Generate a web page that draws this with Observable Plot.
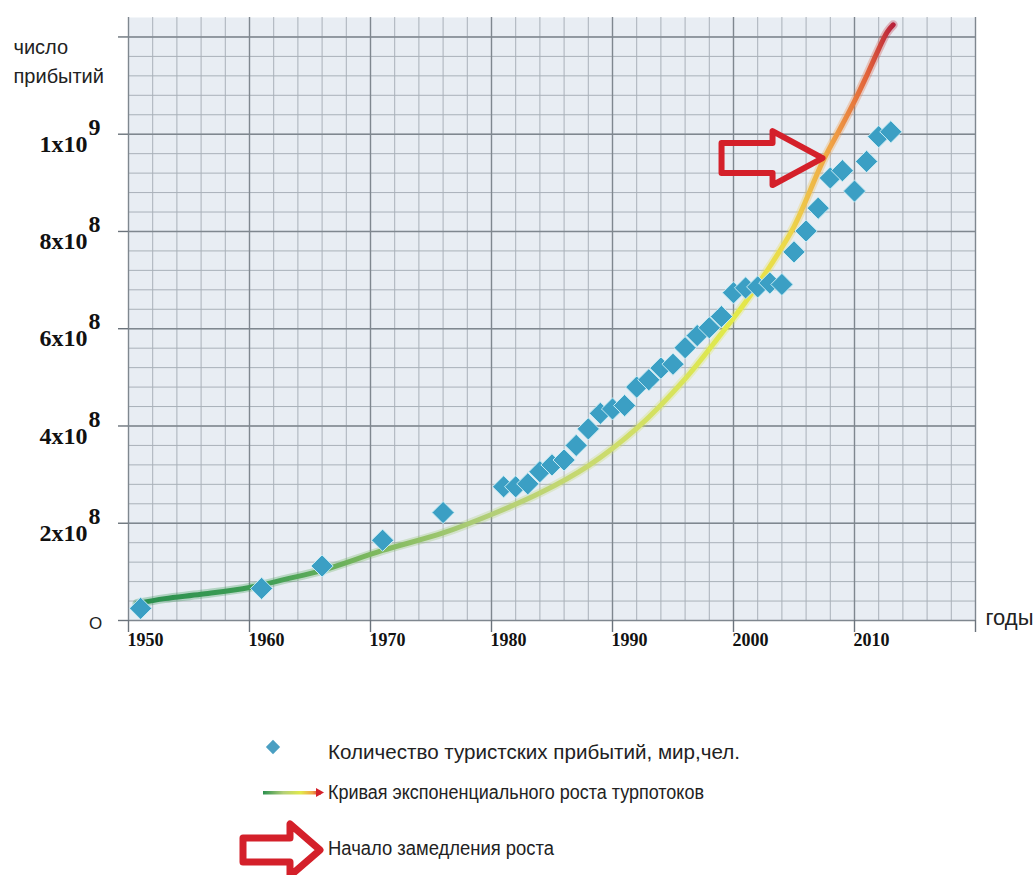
<!DOCTYPE html>
<html>
<head>
<meta charset="utf-8">
<script src="https://cdn.jsdelivr.net/npm/d3@7"></script>
<script src="https://cdn.jsdelivr.net/npm/@observablehq/plot@0.6"></script>
<style>
  html, body { margin: 0; padding: 0; background: #ffffff; }
  #chart svg, #legend { display: block; }
</style>
</head>
<body>
<div id="chart"></div>
<svg id="legend" width="1036" height="185" xmlns="http://www.w3.org/2000/svg"></svg>
<script>
// ---------- data ----------
const arrivalYears = [1951, 1961, 1966, 1971, 1976, 1981, 1982, 1983, 1984, 1985, 1986, 1987, 1988, 1989,
  1990, 1991, 1992, 1993, 1994, 1995, 1996, 1997, 1998, 1999, 2000, 2001, 2002, 2003, 2004, 2005,
  2006, 2007, 2008, 2009, 2010, 2011, 2012, 2013];
const arrivalValues = [25e6, 66e6, 112e6, 165e6, 222e6, 275e6, 275e6, 281e6, 306e6, 320e6, 330e6, 360e6, 394e6, 426e6,
  435e6, 442e6, 480e6, 495e6, 519e6, 527e6, 561e6, 586e6, 602e6, 625e6, 674e6, 684e6, 686e6, 694e6, 691e6, 758e6,
  801e6, 848e6, 910e6, 925e6, 883e6, 944e6, 995e6, 1005e6];

const curveYears  = [1950.7, 1953, 1956, 1960, 1963, 1966, 1971, 1976, 1980, 1984, 1988, 1992, 1996, 1999,
  2001, 2003, 2005, 2007.4, 2009, 2010, 2011, 2012, 2012.7, 2013.2];
const curveValues = [35e6, 45e6, 54e6, 68e6, 85e6, 103e6, 144e6, 180e6, 218e6, 262e6, 318e6, 395e6, 497e6, 590e6,
  655e6, 728e6, 810e6, 945e6, 1020e6, 1068e6, 1120e6, 1175e6, 1210e6, 1225e6];

const xTickYears = [1950, 1960, 1970, 1980, 1990, 2000, 2010];
const xMajorYears = [1950, 1960, 1970, 1980, 1990, 2000, 2010, 2020];
const yTickValues = [2e8, 4e8, 6e8, 8e8, 1e9];
const yTickMantissa = ["2x10", "4x10", "6x10", "8x10", "1x10"];
const yTickExponent = ["8", "8", "8", "8", "9"];
const yMajorValues = [0, 2e8, 4e8, 6e8, 8e8, 1e9, 1.2e9];
const zeroLabel = "O";
const yTitle = "число\nприбытий";
const xTitle = "годы";
const arrowYear = 2007.4;
const arrowValue = 950e6;

const legendLabels = [
  "Количество туристских прибытий, мир,чел.",
  "Кривая экспоненциального роста турпотоков",
  "Начало замедления роста"
];

const arrivals = arrivalYears.map((year, i) => ({year, value: arrivalValues[i]}));
const curve = curveYears.map((year, i) => ({year, value: curveValues[i]}));

const minorX = d3.range(1950, 2021, 2);
const minorY = d3.range(0, 31).map(k => k * 4e7);

const gradStops = [
  [1950.7, "#2a8f4e"], [1961, "#3f9e55"], [1970, "#7cb85e"], [1980, "#b3cf78"],
  [1990, "#cddc6c"], [2000, "#e2ea4a"], [2004.5, "#ecd84a"], [2008, "#f0a446"],
  [2011, "#e2643a"], [2013.2, "#b8203a"]
];

function gradientMark(index, scales) {
  const ns = "http://www.w3.org/2000/svg";
  const g = document.createElementNS(ns, "g");
  const defs = document.createElementNS(ns, "defs");
  const lg = document.createElementNS(ns, "linearGradient");
  lg.setAttribute("id", "expGrad");
  lg.setAttribute("gradientUnits", "userSpaceOnUse");
  const x0 = scales.x(curveYears[0]), x1 = scales.x(curveYears[curveYears.length - 1]);
  lg.setAttribute("x1", x0); lg.setAttribute("x2", x1);
  lg.setAttribute("y1", 0); lg.setAttribute("y2", 0);
  for (const [yr, c] of gradStops) {
    const s = document.createElementNS(ns, "stop");
    s.setAttribute("offset", ((scales.x(yr) - x0) / (x1 - x0)).toFixed(4));
    s.setAttribute("stop-color", c);
    lg.appendChild(s);
  }
  defs.appendChild(lg);
  g.appendChild(defs);
  return g;
}

function arrowPath(tx, ty, len, headLen, shaftH, headH) {
  return `M${tx},${ty} L${tx - headLen},${ty - headH} L${tx - headLen},${ty - shaftH} ` +
    `L${tx - len},${ty - shaftH} L${tx - len},${ty + shaftH} L${tx - headLen},${ty + shaftH} ` +
    `L${tx - headLen},${ty + headH} Z`;
}

function arrowMark(index, scales) {
  const ns = "http://www.w3.org/2000/svg";
  const p = document.createElementNS(ns, "path");
  const tx = scales.x(arrowYear), ty = scales.y(arrowValue);
  p.setAttribute("d", arrowPath(tx, ty, 101, 50, 15, 27));
  p.setAttribute("fill", "none");
  p.setAttribute("stroke", "#d4202a");
  p.setAttribute("stroke-width", 6);
  p.setAttribute("stroke-linejoin", "round");
  return p;
}

const serif = "'Liberation Serif', 'Times New Roman', serif";
const sans = "'Liberation Sans', Arial, sans-serif";

const chart = Plot.plot({
  width: 1036,
  height: 690,
  marginLeft: 128,
  marginRight: 61,
  marginTop: 17,
  marginBottom: 70,
  style: {background: "transparent", overflow: "visible"},
  x: {domain: [1950, 2020]},
  y: {domain: [0, 1.24e9]},
  marks: [
    Plot.frame({fill: "#e8edf3", stroke: null}),
    Plot.ruleX(minorX, {stroke: "#a9b1b9", strokeWidth: 1}),
    Plot.ruleY(minorY, {stroke: "#a9b1b9", strokeWidth: 1}),
    Plot.ruleX(xMajorYears, {stroke: "#7f878f", strokeWidth: 1.4}),
    Plot.ruleY(yMajorValues, {stroke: "#7f878f", strokeWidth: 1.4}),
    Plot.axisX({ticks: xMajorYears, tickSize: 12, tickFormat: () => "", stroke: "#6b737b", strokeWidth: 1.4, label: null}),
    Plot.axisY({ticks: yMajorValues, tickSize: 10, tickFormat: () => "", stroke: "#6b737b", strokeWidth: 1.4, label: null}),
    gradientMark,
    Plot.line(curve, {x: "year", y: "value", curve: "catmull-rom", stroke: "url(#expGrad)", strokeWidth: 9, strokeOpacity: 0.3}),
    Plot.line(curve, {x: "year", y: "value", curve: "catmull-rom", stroke: "url(#expGrad)", strokeWidth: 5}),
    Plot.dot(arrivals, {x: "year", y: "value", symbol: "diamond2", r: 10, fill: "#3b9fc4", stroke: "#c9ecf4", strokeWidth: 1}),
    arrowMark,
    Plot.text(xTickYears, {x: d => d, text: d => String(d), frameAnchor: "bottom", dy: 25, dx: -1, textAnchor: "start",
      fontFamily: serif, fontWeight: "bold", fontSize: 18, fill: "#111"}),
    Plot.text(yTickValues, {y: d => d, text: (d, i) => yTickMantissa[i], frameAnchor: "left", dx: -41, dy: 10, textAnchor: "end",
      fontFamily: serif, fontWeight: "bold", fontSize: 24, fill: "#111"}),
    Plot.text(yTickValues, {y: d => d, text: (d, i) => yTickExponent[i], frameAnchor: "left", dx: -40, dy: -7, textAnchor: "start",
      fontFamily: serif, fontWeight: "bold", fontSize: 24, fill: "#111"}),
    Plot.text([0], {y: d => d, text: () => zeroLabel, frameAnchor: "left", dx: -33, dy: 3, textAnchor: "middle",
      fontFamily: sans, fontSize: 17, fill: "#222"}),
    Plot.text([xTitle], {text: d => d, frameAnchor: "bottom-right", dx: 10, dy: 4, textAnchor: "start",
      fontFamily: sans, fontSize: 22, fill: "#222"}),
    Plot.text([yTitle], {text: d => d, frameAnchor: "top-left", dx: -115, dy: 16, textAnchor: "start", lineHeight: 1.45,
      fontFamily: sans, fontSize: 20, fill: "#222"})
  ]
});
document.getElementById("chart").appendChild(chart);

// ---------- legend below the chart ----------
const leg = d3.select("#legend");
const ldefs = leg.append("defs");
const lgr = ldefs.append("linearGradient").attr("id", "legGrad").attr("x1", 0).attr("x2", 1).attr("y1", 0).attr("y2", 0);
[[0, "#2a8f4e"], [0.35, "#b3cf78"], [0.65, "#e2ea4a"], [0.85, "#f0a446"], [1, "#d4202a"]].forEach(([o, c]) =>
  lgr.append("stop").attr("offset", o).attr("stop-color", c));

// item 1: diamond
leg.append("path").attr("d", d3.symbol(d3.symbolDiamond2, 130)()).attr("transform", "translate(273,57)")
  .attr("fill", "#4a9fc2");
// item 2: gradient line
leg.append("rect").attr("x", 263).attr("y", 101).attr("width", 58).attr("height", 3.5).attr("fill", "url(#legGrad)");
leg.append("path").attr("d", "M316,98 L324,102.5 L316,107 Z").attr("fill", "#d4202a");
// item 3: arrow
leg.append("path").attr("d", arrowPath(320, 160, 77, 30, 12, 26)).attr("fill", "none")
  .attr("stroke", "#d4202a").attr("stroke-width", 7).attr("stroke-linejoin", "round");

const legendY = [62, 102, 158];
const legendLen = [412, 376, 226];
const legendSize = [21, 20, 20];
legendLabels.forEach((t, i) => {
  leg.append("text").attr("x", 328).attr("y", legendY[i]).attr("dy", "0.35em")
    .attr("font-family", sans).attr("font-size", legendSize[i]).attr("fill", "#222")
    .attr("textLength", legendLen[i]).attr("lengthAdjust", "spacingAndGlyphs").text(t);
});
</script>
</body>
</html>
